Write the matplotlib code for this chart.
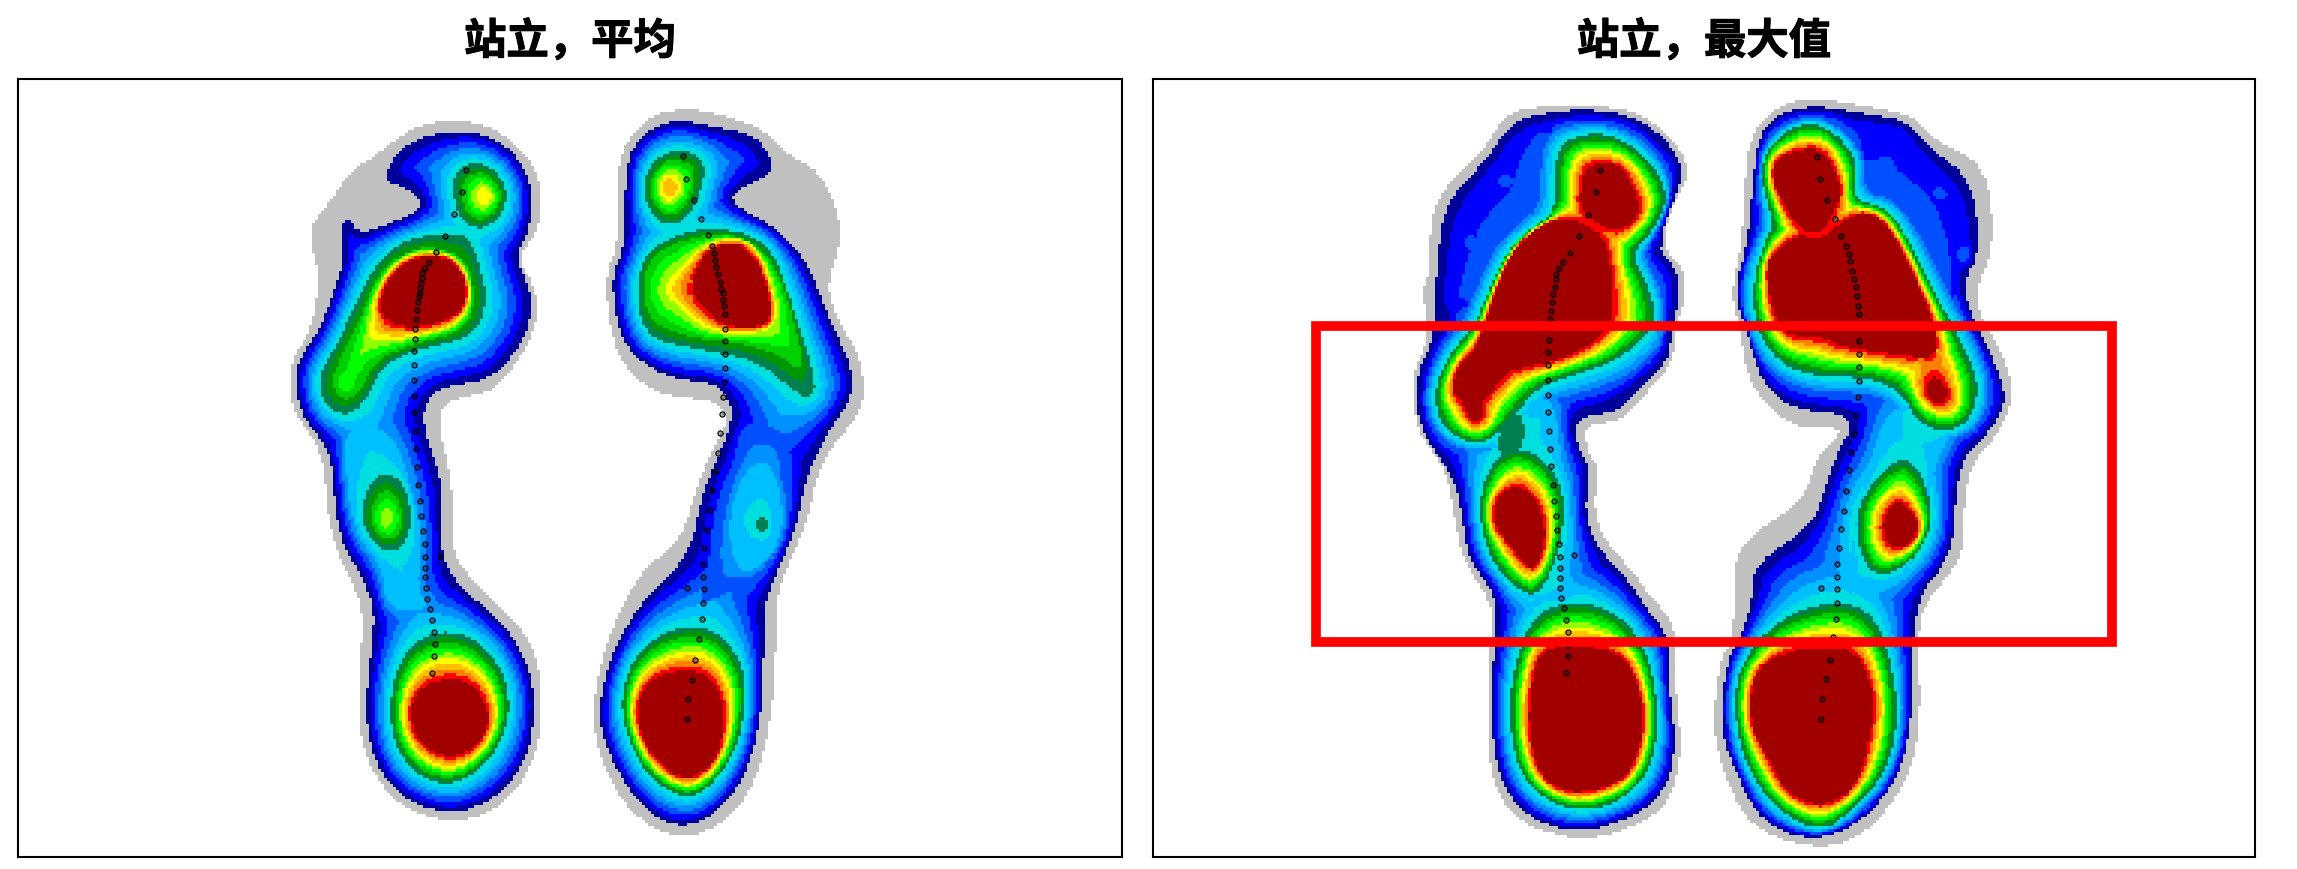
import numpy as np
import matplotlib
matplotlib.use('Agg')
import matplotlib.pyplot as plt
import matplotlib.patheffects as pe
from matplotlib.colors import ListedColormap, BoundaryNorm
from matplotlib.patches import Rectangle
from matplotlib.path import Path

plt.rcParams['font.family'] = ['Noto Sans CJK SC', 'DejaVu Sans']

titles = ['站立，平均', '站立，最大值']

# pressure bands, lowest to highest
band_colors = ['#c0c0c0', '#00009b', '#0000ff', '#0050ff', '#0090ff', '#00bfff', '#00dfdf',
               '#008050', '#009600', '#00d000', '#00ff00', '#90ff00', '#ffff00', '#ffc000',
               '#ff8000', '#ff0000', '#a00000']

# ---- left panel, left foot: iso-pressure outlines ----
la_0 = [(490,42),(560,48),(620,75),(670,115),(700,165),(705,230),(680,285),(645,320),(680,370),(697,420),(680,480),(640,540),(590,590),(520,605),(470,615),(455,650),(465,700),(485,770),(490,850),(490,910),(505,945),(560,1000),(630,1055),(680,1105),(700,1170),(703,1280),(680,1350),(640,1410),(570,1455),(490,1470),(410,1455),(340,1420),(290,1360),(265,1290),(262,1190),(270,1100),(270,1030),(240,970),(205,910),(185,830),(180,750),(155,690),(110,640),(95,590),(100,530),(140,480),(160,420),(165,340),(145,290),(150,250),(210,190),(240,145),(300,115),(360,75),(420,48)]
la_1 = [(500,63),(560,68),(620,95),(660,135),(680,180),(680,240),(660,290),(640,320),(670,375),(680,420),(665,480),(625,530),(575,568),(510,578),(450,590),(420,625),(420,670),(445,730),(463,790),(462,880),(465,930),(490,975),(560,1030),(625,1080),(665,1140),(685,1200),(683,1290),(655,1360),(600,1415),(530,1445),(470,1452),(390,1430),(330,1390),(295,1330),(280,1260),(283,1190),(298,1090),(298,1030),(270,970),(225,910),(205,830),(200,750),(180,700),(130,650),(110,590),(115,530),(165,470),(190,420),(222,340),(225,300),(215,260),(238,238),(260,270),(300,265),(410,225),(410,200),(380,180),(320,165),(350,110),(390,85),(440,70)]
la_mid = [(230,670),(300,660),(350,690),(380,760),(420,900),(400,990),(440,1040),(330,1040),(320,950),(250,880),(230,760)]
la_toe = [(540,125),(590,140),(622,185),(610,235),(560,265),(510,250),(487,190),(495,145)]
la_toe_peak = [(563,170),(588,197),(563,222),(538,197)]
la_ff = [(420,275),(510,272),(535,290),(555,340),(572,400),(555,460),(510,490),(420,505),(350,525),(310,555),(285,605),(245,642),(195,635),(165,595),(172,550),(215,490),(250,420),(300,340),(350,295)]
la_ff_warm = [(350,320),(300,370),(270,440),(215,530),(195,580),(230,615),(270,590),(300,530),(400,495),(520,470),(545,400),(520,320),(430,295)]
la_ff_peak = [(232,545),(260,575),(232,600),(205,575)]
la_ff_core = [(430,315),(490,325),(525,375),(515,425),(460,455),(380,465),(330,450),(310,420),(330,370),(370,330)]
la_lat = [(330,755),(375,785),(392,850),(375,905),(330,925),(285,890),(267,845),(285,780)]
la_lat_peak = [(330,822),(352,850),(330,878),(308,850)]
la_heel = [(480,1080),(550,1100),(610,1160),(630,1240),(600,1320),(540,1375),(480,1395),(410,1380),(350,1320),(335,1230),(360,1140),(410,1095)]
la_heel_core = [(480,1175),(545,1190),(580,1250),(560,1305),(500,1340),(440,1330),(395,1290),(385,1240),(410,1195)]

# ---- left panel, right foot ----
ra_0 = [(1040,18),(1100,22),(1170,40),(1240,60),(1300,115),(1370,140),(1425,240),(1420,310),(1390,380),(1420,450),(1470,520),(1485,600),(1460,650),(1400,710),(1365,770),(1345,860),(1270,1000),(1270,1090),(1260,1250),(1220,1390),(1150,1470),(1050,1505),(960,1480),(880,1410),(830,1300),(830,1200),(870,1080),(940,960),(1040,900),(1080,780),(1130,690),(1155,650),(1120,610),(1010,605),(930,570),(875,500),(855,360),(890,290),(885,130),(920,70),(970,30)]
ra_1 = [(1040,40),(1120,55),(1210,70),(1240,95),(1270,145),(1170,185),(1160,210),(1280,265),(1350,340),(1395,440),(1455,550),(1450,610),(1390,680),(1340,770),(1320,870),(1240,1020),(1240,1090),(1235,1250),(1200,1370),(1130,1450),(1050,1482),(970,1460),(900,1390),(845,1290),(845,1210),(880,1110),(955,1010),(1060,930),(1090,800),(1155,680),(1165,620),(1120,575),(1030,570),(950,540),(890,480),(870,360),(905,300),(905,130),(940,75),(990,50)]
ra_mid = [(1190,650),(1310,680),(1290,800),(1260,960),(1160,1000),(1080,1030),(1100,960),(1130,850),(1170,720)]
ra_lat5 = [(1240,725),(1280,790),(1285,880),(1250,940),(1180,970),(1150,880),(1180,770)]
ra_lat6 = [(1235,800),(1265,850),(1250,900),(1200,890),(1190,840)]
ra_lat7 = [(1235,842),(1255,865),(1235,885),(1212,865)]
ra_toe = [(1020,100),(1080,110),(1100,140),(1080,210),(1030,260),(970,240),(945,180),(970,125)]
ra_toe_peak = [(1012,152),(1035,178),(1012,204),(990,178)]
ra_ff = [(1080,262),(1180,265),(1260,300),(1310,420),(1372,590),(1340,610),(1310,590),(1220,530),(1100,510),(1000,495),(950,470),(930,390),(950,320),(1000,285)]
ra_ff_warm = [(1000,300),(1090,275),(1190,275),(1265,330),(1310,440),(1340,560),(1280,520),(1190,495),(1070,485),(970,455),(945,390),(960,330)]
ra_ff_hot = [(990,385),(1050,330),(1110,285),(1200,280),(1250,340),(1280,460),(1200,480),(1100,470),(1030,420)]
ra_ff_lobe = [(1030,380),(1065,350),(1075,420),(1050,410)]
ra_ff_core = [(1125,295),(1190,292),(1240,350),(1260,440),(1230,465),(1140,460),(1090,420),(1060,385),(1085,325)]
ra_heel = [(1080,1068),(1140,1090),(1190,1150),(1198,1230),(1170,1330),(1110,1400),(1050,1425),(960,1380),(910,1300),(893,1220),(920,1140),(990,1085)]
ra_heel_core = [(1040,1158),(1110,1170),(1145,1230),(1140,1310),(1105,1365),(1045,1385),(985,1350),(945,1300),(930,1240),(960,1180)]

# ---- right panel, left foot ----
lm_0 = [(385,62),(480,48),(600,55),(660,90),(705,140),(718,190),(690,240),(665,330),(710,375),(712,440),(690,490),(690,560),(640,620),(590,680),(525,680),(530,740),(555,770),(540,850),(565,920),(610,970),(650,1030),(690,1075),(690,1140),(695,1230),(705,1340),(680,1440),(620,1480),(530,1510),(440,1490),(380,1450),(350,1370),(345,1250),(350,1130),(360,1050),(300,950),(285,870),(270,770),(215,700),(205,590),(240,510),(225,420),(240,380),(240,280),(265,215),(330,150),(360,100)]
lm_1 = [(395,85),(480,62),(600,65),(650,100),(695,150),(705,190),(670,260),(645,330),(695,370),(700,430),(680,490),(680,550),(625,610),(570,655),(505,665),(510,720),(535,770),(525,860),(550,930),(600,985),(640,1050),(680,1100),(680,1200),(695,1330),(670,1420),(610,1465),(520,1495),(440,1475),(390,1430),(362,1360),(350,1240),(362,1090),(360,1020),(310,950),(300,870),(285,790),(220,695),(218,590),(250,510),(268,470),(250,420),(255,375),(265,280),(295,230),(340,170),(385,130)]
lm_2 = [(470,75),(400,100),(350,175),(300,240),(280,290),(268,380),(265,470),(330,440),(360,340),(440,270),(460,170)]
lm_3a = [(315,305),(335,322),(315,340),(298,322)]
lm_3b = [(378,185),(395,200),(378,218),(362,200)]
lm_4 = [(490,90),(570,85),(650,130),(690,215),(660,300),(630,345),(665,410),(672,480),(665,530),(600,590),(520,620),(450,640),(410,680),(370,730),(320,745),(250,705),(228,630),(255,540),(300,480),(320,430),(360,330),(410,280),(445,250),(445,165),(455,115)]
lm_mid = [(395,690),(430,630),(470,640),(480,740),(505,860),(495,980),(520,1030),(440,1035),(400,1020),(360,740)]
lm_bridge = [(365,700),(410,650),(415,720),(400,740),(365,745)]
lm_toe_ff = [(510,110),(570,105),(640,150),(680,220),(660,290),(610,345),(640,400),(660,470),(640,510),(580,560),(490,590),(440,610),(400,660),(360,710),(320,725),(265,695),(245,630),(270,550),(320,490),(340,440),(380,340),(430,290),(470,265),(470,170),(480,130)]
lm_toe_core = [(535,165),(590,165),(620,220),(630,265),(590,305),(550,285),(515,260),(520,190)]
lm_ff_core = [(490,272),(540,290),(570,330),(580,440),(570,500),(500,550),(400,575),(385,580),(370,600),(335,640),(340,670),(320,685),(300,640),(280,620),(290,570),(330,525),(350,450),(390,340),(440,290)]
lm_lat = [(400,725),(460,760),(490,830),(480,930),(450,1010),(420,1025),(370,980),(340,920),(330,840),(350,760)]
lm_lat_core = [(400,800),(440,835),(455,900),(440,965),(420,970),(385,920),(355,880),(360,830)]
lm_heel = [(510,1030),(590,1060),(640,1130),(660,1230),(655,1350),(610,1420),(530,1455),(450,1430),(400,1370),(385,1260),(395,1160),(430,1060)]
lm_heel_core = [(520,1120),(600,1140),(630,1220),(635,1290),(610,1380),(550,1410),(490,1415),(440,1380),(420,1280),(430,1180),(445,1130)]

# ---- right panel, right foot ----
rm_0 = [(880,50),(950,35),(1060,55),(1130,70),(1170,120),(1270,170),(1280,340),(1250,400),(1250,460),(1300,550),(1318,630),(1290,700),(1240,760),(1225,830),(1225,950),(1150,1040),(1140,1110),(1145,1260),(1130,1370),(1070,1470),(1000,1520),(920,1520),(830,1480),(790,1400),(760,1290),(775,1150),(800,1110),(800,1000),(810,920),(935,830),(950,750),(1000,700),(990,690),(905,690),(830,610),(810,490),(795,420),(815,330),(820,210),(830,110)]
rm_1 = [(885,65),(950,50),(1050,68),(1120,80),(1160,135),(1240,195),(1255,340),(1225,400),(1235,460),(1280,555),(1305,630),(1280,690),(1225,745),(1210,820),(1205,940),(1130,1040),(1130,1260),(1110,1370),(1060,1450),(990,1500),(920,1505),(850,1470),(810,1390),(775,1290),(785,1160),(815,1100),(835,1030),(838,960),(950,880),(970,800),(1000,720),(1020,690),(1000,660),(910,655),(850,600),(825,500),(800,420),(825,330),(835,210),(845,110)]
rm_2 = [(1000,75),(1060,85),(1120,95),(1150,150),(1225,215),(1240,340),(1210,400),(1200,470),(1150,420),(1100,280),(1040,230),(1040,120)]
rm_3a = [(1180,210),(1198,225),(1180,242),(1162,225)]
rm_3b = [(1225,325),(1240,345),(1225,368),(1208,345)]
rm_4 = [(925,70),(990,85),(1045,155),(1040,225),(1095,235),(1140,300),(1200,430),(1250,530),(1275,610),(1255,690),(1190,720),(1130,700),(1100,645),(1050,620),(950,620),(870,585),(825,500),(815,400),(845,310),(855,290),(845,200),(855,120)]
rm_mid = [(1080,660),(1130,640),(1210,690),(1170,760),(1130,1000),(1040,1000),(1000,1040),(1040,800)]
rm_toe_ff = [(930,80),(985,100),(1030,160),(1020,240),(1080,250),(1120,310),(1180,440),(1230,540),(1255,610),(1235,680),(1190,700),(1140,680),(1110,620),(1050,590),(950,590),(880,560),(840,490),(835,400),(860,310),(875,290),(850,200),(860,130)]
rm_toe_core = [(880,150),(960,130),(985,175),(1000,215),(990,255),(965,300),(945,305),(915,290),(890,245),(870,190)]
rm_ff_core = [(1040,260),(1085,285),(1130,380),(1170,480),(1175,550),(1130,550),(1000,530),(960,510),(900,510),(870,460),(860,370),(875,340),(920,305),(960,318),(1000,280)]
rm_ff_bridge = [(1140,540),(1190,530),(1215,620),(1205,665),(1150,650),(1130,590)]
rm_ff_lobe = [(1170,580),(1200,620),(1180,650),(1150,620)]
rm_lat = [(1110,745),(1150,780),(1170,880),(1130,960),(1060,990),(1030,930),(1025,860),(1060,790)]
rm_lat_core = [(1105,825),(1145,880),(1130,920),(1090,935),(1070,880)]
rm_heel = [(990,1030),(1060,1060),(1090,1150),(1105,1260),(1085,1370),(1020,1450),(960,1495),(880,1450),(825,1370),(800,1260),(810,1160),(880,1070)]
rm_heel_core = [(950,1125),(1030,1130),(1060,1220),(1055,1290),(1030,1400),(970,1445),(900,1420),(860,1340),(830,1280),(835,1180),(880,1140)]

# centre of pressure points
avg_x = [521,511,492,470,448,432,423,416,415,413,411,409,407,405,402,401,399,397,396,395,395,395,396,398,400,403,406,410,413,418,422,423,423,423,424,428,433,439,444,446,443,439,459,
         1045,1052,1070,1088,1104,1114,1119,1121,1125,1129,1133,1137,1140,1142,1144,1145,1146,1146,1146,1146,1144,1142,1138,1133,1128,1122,1115,1109,1102,1096,1093,1093,1094,1093,1090,1083,1074,1065,1056,1053,1053]
avg_y = [143,187,233,276,310,330,342,352,362,372,382,392,400,412,428,445,466,487,511,540,570,602,636,674,710,747,784,816,847,877,904,930,952,972,994,1016,1036,1058,1084,1108,1133,1166,928,
         115,160,203,243,275,298,312,325,340,355,370,385,392,407,420,435,467,491,518,545,574,605,640,679,718,755,795,835,876,913,945,971,996,1024,1056,1097,1141,1181,1219,1261,994]
max_x = [554,546,532,514,498,486,478,473,472,470,467,465,463,462,461,459,458,457,457,458,458,459,461,463,466,468,472,475,477,479,479,479,479,482,487,491,495,495,494,491,506,
         954,960,973,987,999,1008,1012,1015,1019,1022,1025,1028,1030,1031,1031,1032,1032,1031,1031,1029,1025,1022,1017,1013,1008,1003,998,994,991,990,990,991,988,984,977,970,963,961,961]
max_y = [179,223,267,309,343,362,373,385,395,410,425,440,458,474,490,516,539,565,595,626,660,697,732,767,804,835,865,893,921,946,968,988,1009,1029,1049,1071,1096,1122,1144,1177,943,
         153,197,238,275,309,330,345,360,380,395,410,428,448,465,490,519,544,570,598,630,664,702,739,775,815,855,892,929,961,986,1010,1038,1069,1105,1152,1190,1228,1268,1009]

# outlines of each foot as (level, outline)
foot_la = [(0,la_0),(1,la_1),(5,la_mid),(7,la_toe),(12,la_toe_peak),(7,la_ff),(9,la_ff_warm),(10,la_ff_peak),(16,la_ff_core),(7,la_lat),(11,la_lat_peak),(7,la_heel),(16,la_heel_core)]
foot_ra = [(0,ra_0),(1,ra_1),(3,ra_mid),(5,ra_lat5),(6,ra_lat6),(7,ra_lat7),(7,ra_toe),(13,ra_toe_peak),(7,ra_ff),(9,ra_ff_warm),(12,ra_ff_hot),(14,ra_ff_lobe),(16,ra_ff_core),(7,ra_heel),(16,ra_heel_core)]
foot_lm = [(0,lm_0),(1,lm_1),(2,lm_2),(3,lm_3a),(3,lm_3b),(4,lm_4),(5,lm_mid),(7,lm_bridge),(7,lm_toe_ff),(16,lm_toe_core),(16,lm_ff_core),(7,lm_lat),(16,lm_lat_core),(7,lm_heel),(16,lm_heel_core)]
foot_rm = [(0,rm_0),(1,rm_1),(2,rm_2),(3,rm_3a),(3,rm_3b),(4,rm_4),(5,rm_mid),(7,rm_toe_ff),(16,rm_toe_core),(16,rm_ff_core),(13,rm_ff_bridge),(16,rm_ff_lobe),(7,rm_lat),(16,rm_lat_core),(7,rm_heel),(16,rm_heel_core)]


def smooth(pts, n=2):
    p = np.array(pts, float)
    for _ in range(n):
        q = np.roll(p, -1, axis=0)
        p = np.column_stack([0.75*p + 0.25*q, 0.25*p + 0.75*q]).reshape(-1, 2)
    return p


def curve_dist(P, c):
    a = c
    b = np.roll(c, -1, axis=0)
    best = np.full(len(P), 1e12)
    for s, e in zip(a, b):
        d = e - s
        t = np.clip(((P - s) @ d) / max(d @ d, 1e-9), 0, 1)
        r = P - (s + t[:, None]*d)
        best = np.minimum(best, (r*r).sum(axis=1))
    return np.sqrt(best)


def foot_field(xx, yy, foot):
    # interpolate between nested outlines, pixel by pixel
    levels = [f[0] for f in foot]
    curves = [smooth(f[1]) for f in foot]
    x0, y0 = curves[0].min(axis=0)
    x1, y1 = curves[0].max(axis=0)
    sel = (xx >= x0) & (xx <= x1) & (yy >= y0) & (yy <= y1)
    P = np.column_stack([xx[sel], yy[sel]])
    paths = [Path(c) for c in curves]
    masks = [p.contains_points(P) for p in paths]
    dists = [curve_dist(P, c) for c in curves]
    n = len(curves)
    inside_all = [[paths[q].contains_points(curves[c]).all() for q in range(n)] for c in range(n)]
    inside_any = [[paths[q].contains_points(curves[c]).any() for q in range(n)] for c in range(n)]

    parent = np.full(len(P), -1)
    for i in np.argsort(levels, kind='stable'):
        parent[masks[i]] = i

    v = np.full(len(P), np.nan)
    for i in range(n):
        cells = parent == i
        if not cells.any():
            continue
        val = np.full(cells.sum(), float(levels[i]))
        for c in range(n):
            if levels[c] <= levels[i] or not inside_any[c][i]:
                continue
            covered = any(inside_all[c][q] and levels[i] < levels[q] < levels[c] for q in range(n))
            if covered:
                continue
            di = dists[i][cells]
            dc = dists[c][cells]
            val = np.maximum(val, levels[i] + (levels[c]-levels[i])*di/(di+dc+1e-9))
        v[cells] = val
    out = np.full(xx.shape, np.nan)
    out[sel] = v
    return out


fig = plt.figure(figsize=(22.97, 8.69), dpi=100)
W, H = 2297.0, 869.0

panels = [
    dict(box=(18, 79, 1122, 857), org=(250, 100), sx=2.412, sy=2.036, feet=[foot_la, foot_ra], px=avg_x, py=avg_y),
    dict(box=(1153, 79, 2255, 857), org=(1300, 80), sx=1.845, sy=1.985, feet=[foot_lm, foot_rm], px=max_x, py=max_y),
]
cmap = ListedColormap(band_colors)
norm = BoundaryNorm(np.arange(0, len(band_colors)+1), cmap.N)
cell = 3.0

for k, pn in enumerate(panels):
    l, t, r, b = pn['box']
    ax = fig.add_axes([l/W, 1-b/H, (r-l)/W, (b-t)/H])
    xl = ((l-pn['org'][0])*pn['sx'], (r-pn['org'][0])*pn['sx'])
    yl = ((b-pn['org'][1])*pn['sy'], (t-pn['org'][1])*pn['sy'])
    xe = np.arange(xl[0], xl[1]+1, cell*pn['sx'])
    ye = np.arange(yl[1], yl[0]+1, cell*pn['sy'])
    xx, yy = np.meshgrid((xe[:-1]+xe[1:])/2, (ye[:-1]+ye[1:])/2)
    z = np.full(xx.shape, np.nan)
    for foot in pn['feet']:
        f = foot_field(xx, yy, foot)
        z = np.where(np.isnan(f), z, f)
    z = np.ma.masked_invalid(np.floor(z)+0.5)
    ax.pcolormesh(xe, ye, z, cmap=cmap, norm=norm, shading='flat', rasterized=True)
    ax.scatter(pn['px'], pn['py'], s=14, facecolor=(0, 0, 0, 0.35), edgecolor='black', linewidth=0.8, zorder=3)
    ax.set_xlim(xl)
    ax.set_ylim(yl)
    ax.set_xticks([])
    ax.set_yticks([])
    for sp in ax.spines.values():
        sp.set_linewidth(1.5)
    tt = ax.set_title(titles[k], fontsize=30.5, fontweight='bold', pad=18)
    tt.set_path_effects([pe.withStroke(linewidth=0.8, foreground='black')])
    if k == 1:
        ax.add_patch(Rectangle((29, 489), 1498-29, 1115-489, fill=False, edgecolor='#ff0000',
                               linewidth=7, joinstyle='miter', zorder=4, clip_on=False))

fig.savefig('out.png', dpi=100)
